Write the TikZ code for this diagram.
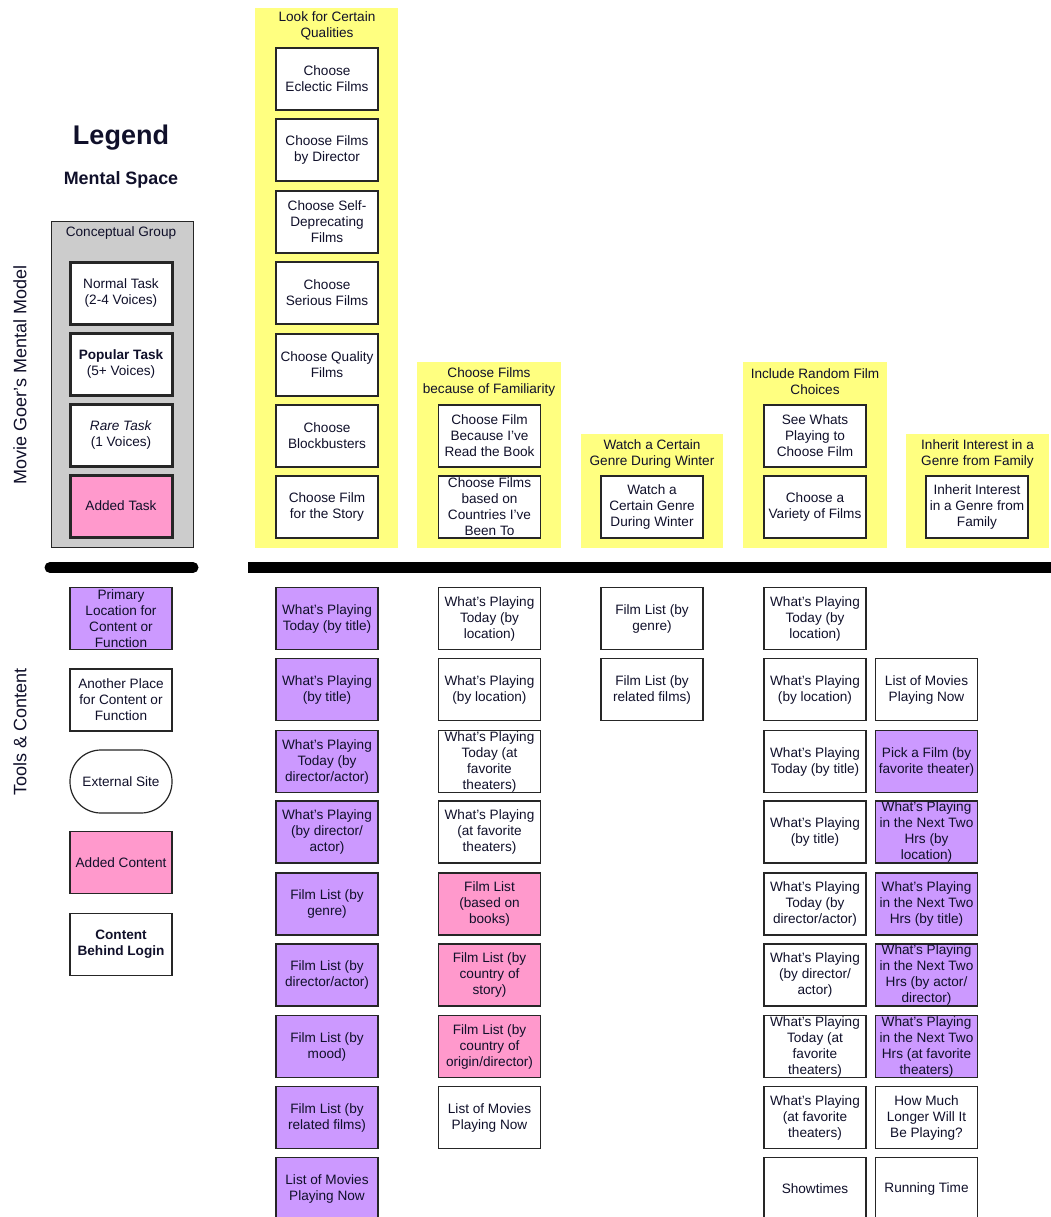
\documentclass[tikz,border=0pt]{standalone}
\usepackage{fontspec}
\setmainfont{Liberation Sans}
\definecolor{yel}{HTML}{FFFF80}
\definecolor{pur}{HTML}{CC99FF}
\definecolor{pnk}{HTML}{FF99CC}
\definecolor{gry}{HTML}{CCCCCC}
\definecolor{edge}{HTML}{262626}
\definecolor{ink}{HTML}{10102A}
\tikzset{
  boxshape/.style={draw=edge, line width=1.4pt, minimum width=102pt, minimum height=62pt, inner sep=0pt, fill=white},
  heavy/.style={line width=3pt},
  boxtext/.style={align=center, text=ink, font=\fontsize{13.6}{16}\selectfont, inner sep=0pt},
  grpbg/.style={fill=yel, draw=none, inner sep=0pt},
  grptitle/.style={align=center, text=ink, font=\fontsize{13.6}{16}\selectfont, inner sep=0pt},
  sidelabel/.style={rotate=90, text=ink, font=\fontsize{18}{20}\selectfont, inner sep=0pt},
  bar/.style={line width=11pt, draw=black}
}
\newcommand\mybox[5]{\node[boxshape,fill=#3,#1] (#2) at (#4) {};\node[boxtext] at (#2) {#5};}
\begin{document}
\begin{tikzpicture}[x=1pt,y=-1pt]
\useasboundingbox (0,0) rectangle (1051,1217);
\clip (0,0) rectangle (1051,1217);
% ---------- legend ----------
\node[text=ink, font=\bfseries\fontsize{27}{30}\selectfont, inner sep=0pt] (legend) at (121,138) {Legend};
\node[text=ink, font=\bfseries\fontsize{17.9}{20}\selectfont, inner sep=0pt] (mspace) at (121,180) {Mental Space};
\node[sidelabel] (mm) at (20,375) {Movie Goer's Mental Model};
\node[sidelabel] (tc) at (20,732) {Tools \& Content};
\node[draw=edge, line width=1pt, fill=gry, minimum width=142pt, minimum height=326pt, inner sep=0pt] (cg) at (122,384) {};
\node[grptitle] (cgt) at (121,233) {Conceptual Group};
\mybox{heavy}{lnormal}{white}{121,293}{Normal Task\\(2-4 Voices)}
\mybox{heavy}{lpopular}{white}{121,364}{\textbf{Popular Task}\\(5+ Voices)}
\mybox{heavy}{lrare}{white}{121,435}{\textit{Rare Task}\\(1 Voices)}
\mybox{heavy}{ladded}{pnk}{121,506}{Added Task}
\mybox{}{lprim}{pur}{121,618.5}{Primary\\Location for\\Content or\\Function}
\mybox{}{lanother}{white}{121,700}{Another Place\\for Content or\\Function}
\node[draw=edge, line width=1.2pt, fill=white, minimum width=102pt, minimum height=63pt, rounded corners=31pt, inner sep=0pt] (lext) at (121,781.5) {};
\node[boxtext] at (lext) {External Site};
\mybox{}{laddc}{pnk}{121,862.5}{Added Content}
\mybox{}{llogin}{white}{121,944.5}{\textbf{Content}\\\textbf{Behind Login}}
% ---------- bars ----------
\coordinate (lb1) at (50,567.5);
\coordinate (lb2) at (193,567.5);
\coordinate (rb1) at (248,567.5);
\coordinate (rb2) at (1051,567.5);
\draw[bar, line cap=round] (lb1) -- (lb2);
\draw[bar] (rb1) -- (rb2);
% ---------- mental space groups ----------
\node[grpbg, minimum width=143pt, minimum height=540pt] (g1) at (326.5,278) {};
\node[grptitle] (g1t) at (327,26) {Look for Certain\\Qualities};
\node[grpbg, minimum width=144pt, minimum height=186pt] (g2) at (489,455) {};
\node[grptitle] (g2t) at (489,382) {Choose Films\\because of Familiarity};
\node[grpbg, minimum width=142pt, minimum height=114pt] (g3) at (652,491) {};
\node[grptitle] (g3t) at (652,453.5) {Watch a Certain\\Genre During Winter};
\node[grpbg, minimum width=144pt, minimum height=186pt] (g4) at (815,455) {};
\node[grptitle] (g4t) at (815,382) {Include Random Film\\Choices};
\node[grpbg, minimum width=143pt, minimum height=114pt] (g5) at (977.5,491) {};
\node[grptitle] (g5t) at (977.5,453.5) {Inherit Interest in a\\Genre from Family};
% group 1
\mybox{}{m11}{white}{327,79}{Choose\\Eclectic Films}
\mybox{}{m12}{white}{327,150}{Choose Films\\by Director}
\mybox{}{m13}{white}{327,222}{Choose Self-\\Deprecating\\Films}
\mybox{}{m14}{white}{327,293}{Choose\\Serious Films}
\mybox{}{m15}{white}{327,365}{Choose Quality\\Films}
\mybox{}{m16}{white}{327,436}{Choose\\Blockbusters}
\mybox{}{m17}{white}{327,507}{Choose Film\\for the Story}
% group 2
\mybox{}{m21}{white}{489.5,436}{Choose Film\\Because I've\\Read the Book}
\mybox{}{m22}{white}{489.5,507}{Choose Films\\based on\\Countries I've\\Been To}
% group 3
\mybox{}{m31}{white}{652,507}{Watch a\\Certain Genre\\During Winter}
% group 4
\mybox{}{m41}{white}{815,436}{See Whats\\Playing to\\Choose Film}
\mybox{}{m42}{white}{815,507}{Choose a\\Variety of Films}
% group 5
\mybox{}{m51}{white}{977,507}{Inherit Interest\\in a Genre from\\Family}
% ---------- tools column 1 ----------
\mybox{}{t11}{pur}{327,618.5}{What's Playing\\Today (by title)}
\mybox{}{t12}{pur}{327,689.5}{What's Playing\\(by title)}
\mybox{}{t13}{pur}{327,761.5}{What's Playing\\Today (by\\director/actor)}
\mybox{}{t14}{pur}{327,832}{What's Playing\\(by director/\\actor)}
\mybox{}{t15}{pur}{327,904}{Film List (by\\genre)}
\mybox{}{t16}{pur}{327,975}{Film List (by\\director/actor)}
\mybox{}{t17}{pur}{327,1046.5}{Film List (by\\mood)}
\mybox{}{t18}{pur}{327,1117.5}{Film List (by\\related films)}
\mybox{}{t19}{pur}{327,1188.5}{List of Movies\\Playing Now}
% ---------- tools column 2 ----------
\mybox{}{t21}{white}{489.5,618.5}{What's Playing\\Today (by\\location)}
\mybox{}{t22}{white}{489.5,689.5}{What's Playing\\(by location)}
\mybox{}{t23}{white}{489.5,761.5}{What's Playing\\Today (at\\favorite\\theaters)}
\mybox{}{t24}{white}{489.5,832}{What's Playing\\(at favorite\\theaters)}
\mybox{}{t25}{pnk}{489.5,904}{Film List\\(based on\\books)}
\mybox{}{t26}{pnk}{489.5,975}{Film List (by\\country of\\story)}
\mybox{}{t27}{pnk}{489.5,1046.5}{Film List (by\\country of\\origin/director)}
\mybox{}{t28}{white}{489.5,1117.5}{List of Movies\\Playing Now}
% ---------- tools column 3 ----------
\mybox{}{t31}{white}{652,618.5}{Film List (by\\genre)}
\mybox{}{t32}{white}{652,689.5}{Film List (by\\related films)}
% ---------- tools column 4 ----------
\mybox{}{t41}{white}{815,618.5}{What's Playing\\Today (by\\location)}
\mybox{}{t42}{white}{815,689.5}{What's Playing\\(by location)}
\mybox{}{t43}{white}{815,761.5}{What's Playing\\Today (by title)}
\mybox{}{t44}{white}{815,832}{What's Playing\\(by title)}
\mybox{}{t45}{white}{815,904}{What's Playing\\Today (by\\director/actor)}
\mybox{}{t46}{white}{815,975}{What's Playing\\(by director/\\actor)}
\mybox{}{t47}{white}{815,1046.5}{What's Playing\\Today (at\\favorite\\theaters)}
\mybox{}{t48}{white}{815,1117.5}{What's Playing\\(at favorite\\theaters)}
\mybox{}{t49}{white}{815,1188.5}{Showtimes}
% ---------- tools column 5 ----------
\mybox{}{t52}{white}{926.5,689.5}{List of Movies\\Playing Now}
\mybox{}{t53}{pur}{926.5,761.5}{Pick a Film (by\\favorite theater)}
\mybox{}{t54}{pur}{926.5,832}{What's Playing\\in the Next Two\\Hrs (by\\location)}
\mybox{}{t55}{pur}{926.5,904}{What's Playing\\in the Next Two\\Hrs (by title)}
\mybox{}{t56}{pur}{926.5,975}{What's Playing\\in the Next Two\\Hrs (by actor/\\director)}
\mybox{}{t57}{pur}{926.5,1046.5}{What's Playing\\in the Next Two\\Hrs (at favorite\\theaters)}
\mybox{}{t58}{white}{926.5,1117.5}{How Much\\Longer Will It\\Be Playing?}
\mybox{}{t59}{white}{926.5,1188.5}{Running Time}
\end{tikzpicture}
\end{document}
